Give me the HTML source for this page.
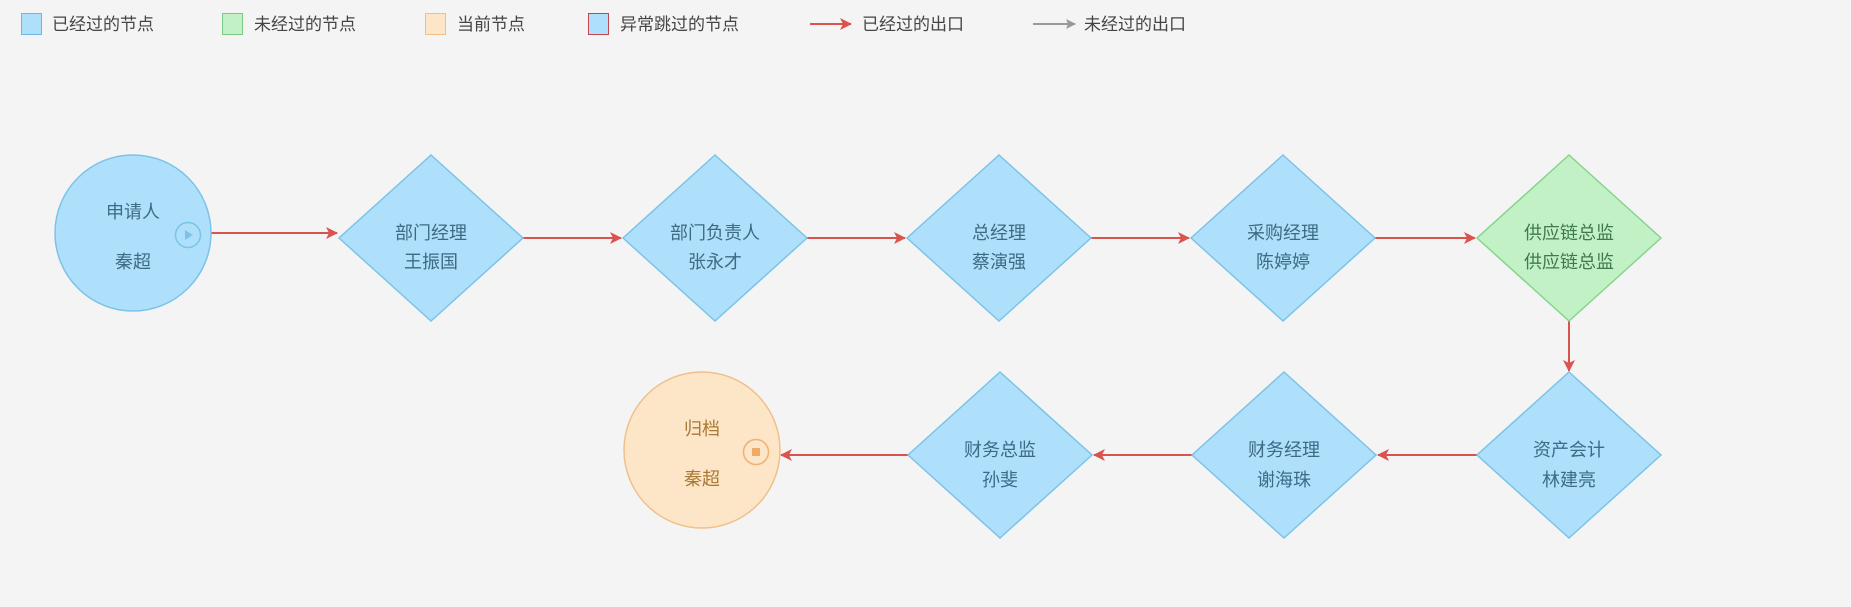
<!DOCTYPE html>
<html><head><meta charset="utf-8"><style>
html,body{margin:0;padding:0;background:#f4f4f4;}
svg{display:block;font-family:"Liberation Sans","Noto Sans CJK SC",sans-serif;}
</style></head><body>
<svg width="1851" height="607" viewBox="0 0 1851 607" xmlns="http://www.w3.org/2000/svg">
<defs>
<marker id="ar" markerWidth="12" markerHeight="12" refX="11" refY="6" orient="auto" markerUnits="userSpaceOnUse">
<path d="M0,0 L12,6 L0,12 L3,6 Z" fill="#d9534f"/></marker>
<marker id="ag" markerWidth="10" markerHeight="10" refX="9" refY="5" orient="auto" markerUnits="userSpaceOnUse">
<path d="M0,0 L10,5 L0,10 L2,5 Z" fill="#999"/></marker>
</defs>
<rect width="1851" height="607" fill="#f4f4f4"/>
<!-- legend -->
<g font-size="17" fill="#444">
<rect x="21.5" y="13.5" width="20" height="21" fill="#aee0fb" stroke="#6fb6e0"/>
<text x="52" y="30">已经过的节点</text>
<rect x="222.5" y="13.5" width="20" height="21" fill="#c3f1c6" stroke="#7cc985"/>
<text x="254" y="30">未经过的节点</text>
<rect x="425.5" y="13.5" width="20" height="21" fill="#fde6c8" stroke="#efbf86"/>
<text x="457" y="30">当前节点</text>
<rect x="588.5" y="13.5" width="20" height="21" fill="#aee0fb" stroke="#c0464f"/>
<text x="620" y="30">异常跳过的节点</text>
<line x1="810" y1="24" x2="851" y2="24" stroke="#d9534f" stroke-width="2" marker-end="url(#ar)"/>
<text x="862" y="30">已经过的出口</text>
<line x1="1033" y1="24" x2="1075" y2="24" stroke="#999" stroke-width="2" marker-end="url(#ag)"/>
<text x="1084" y="30">未经过的出口</text>
</g>
<!-- connectors -->
<g stroke="#d9534f" stroke-width="2" fill="none">
<line x1="211" y1="233" x2="337" y2="233" marker-end="url(#ar)"/>
<line x1="523" y1="238" x2="621" y2="238" marker-end="url(#ar)"/>
<line x1="807" y1="238" x2="905" y2="238" marker-end="url(#ar)"/>
<line x1="1091" y1="238" x2="1189" y2="238" marker-end="url(#ar)"/>
<line x1="1375" y1="238" x2="1475" y2="238" marker-end="url(#ar)"/>
<line x1="1569" y1="321" x2="1569" y2="371" marker-end="url(#ar)"/>
<line x1="1477" y1="455" x2="1378" y2="455" marker-end="url(#ar)"/>
<line x1="1192" y1="455" x2="1094" y2="455" marker-end="url(#ar)"/>
<line x1="908" y1="455" x2="781" y2="455" marker-end="url(#ar)"/>
</g>
<!-- start circle -->
<circle cx="133" cy="233" r="78" fill="#aee0fb" stroke="#7cc3e8" stroke-width="1.5"/>
<circle cx="188" cy="235" r="12.5" fill="none" stroke="#7cc3e8" stroke-width="1.5"/>
<path d="M185,230 L193,235 L185,240 Z" fill="#7cc3e8"/>
<g font-size="18" text-anchor="middle" fill="#3e6a86">
<text x="133" y="218">申请人</text>
<text x="133" y="268">秦超</text>
</g>
<!-- diamonds -->
<g stroke-width="1.5">
<path d="M431,155 L523,238 L431,321 L339,238 Z" fill="#aee0fb" stroke="#7cc3e8"/>
<path d="M715,155 L807,238 L715,321 L623,238 Z" fill="#aee0fb" stroke="#7cc3e8"/>
<path d="M999,155 L1091,238 L999,321 L907,238 Z" fill="#aee0fb" stroke="#7cc3e8"/>
<path d="M1283,155 L1375,238 L1283,321 L1191,238 Z" fill="#aee0fb" stroke="#7cc3e8"/>
<path d="M1569,155 L1661,238 L1569,321 L1477,238 Z" fill="#c3f1c6" stroke="#86d48d"/>
<path d="M1569,372 L1661,455 L1569,538 L1477,455 Z" fill="#aee0fb" stroke="#7cc3e8"/>
<path d="M1284,372 L1376,455 L1284,538 L1192,455 Z" fill="#aee0fb" stroke="#7cc3e8"/>
<path d="M1000,372 L1092,455 L1000,538 L908,455 Z" fill="#aee0fb" stroke="#7cc3e8"/>
</g>
<g font-size="18" text-anchor="middle" fill="#3e6a86">
<text x="431" y="239">部门经理</text><text x="431" y="268">王振国</text>
<text x="715" y="239">部门负责人</text><text x="715" y="268">张永才</text>
<text x="999" y="239">总经理</text><text x="999" y="268">蔡演强</text>
<text x="1283" y="239">采购经理</text><text x="1283" y="268">陈婷婷</text>
<text x="1569" y="456">资产会计</text><text x="1569" y="486">林建亮</text>
<text x="1284" y="456">财务经理</text><text x="1284" y="486">谢海珠</text>
<text x="1000" y="456">财务总监</text><text x="1000" y="486">孙斐</text>
</g>
<g font-size="18" text-anchor="middle" fill="#3f7a4c">
<text x="1569" y="239">供应链总监</text><text x="1569" y="268">供应链总监</text>
</g>
<!-- end circle -->
<circle cx="702" cy="450" r="78" fill="#fde6c8" stroke="#f0c08a" stroke-width="1.5"/>
<circle cx="756" cy="452" r="12.5" fill="none" stroke="#f0b070" stroke-width="1.5"/>
<rect x="752" y="448" width="8" height="8" fill="#eeaa66"/>
<g font-size="18" text-anchor="middle" fill="#a87a35">
<text x="702" y="435">归档</text>
<text x="702" y="485">秦超</text>
</g>
</svg>
</body></html>
